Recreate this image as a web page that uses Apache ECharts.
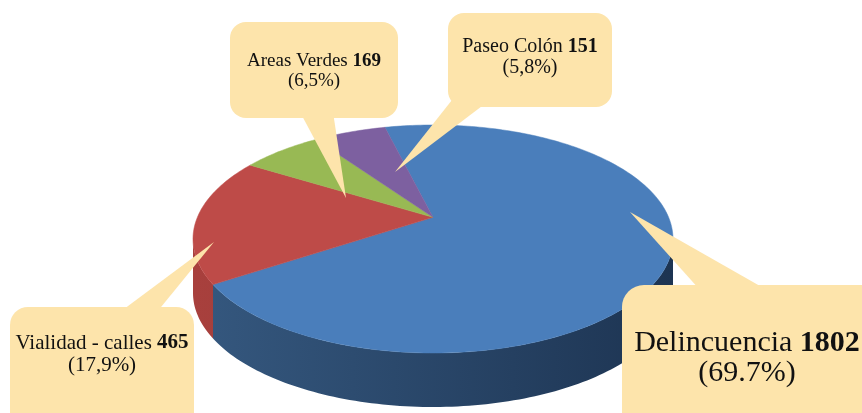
<!DOCTYPE html>
<html>
<head>
<meta charset="utf-8">
<script src="https://cdn.jsdelivr.net/npm/echarts@6.0.0/dist/echarts.min.js"></script>
<style>
  html, body { margin: 0; padding: 0; background: #fff; }
  #chart { width: 862px; height: 413px; }
</style>
</head>
<body>
<div id="chart"></div>
<script>
  // data
  var names = ['Delincuencia', 'Vialidad - calles', 'Areas Verdes', 'Paseo Colón'];
  var values = [1802, 465, 169, 151];
  var pctLabels = ['(69.7%)', '(17,9%)', '(6,5%)', '(5,8%)'];

  var topColors = ['#4a7ebb', '#be4b48', '#98b954', '#7d60a0'];
  var sideColors = [['#35587f', '#1d3452'], ['#a8403d', '#8a3431'], ['#7a9444', '#6a8139'], ['#65508a', '#56447a']];

  // fake 3d pie geometry
  var pie = { cx: 433, cy: 239, rx: 240, ry: 114, depth: 54, k: 0.19, start: -14 };
  var sx = pie.rx * Math.sqrt(1 - pie.k * pie.k);
  var sy = pie.ry * (1 - pie.k * pie.k);
  var apexY = pie.cy - pie.ry * pie.k;

  function proj(theta, dy) {
    var X = Math.sin(theta), Z = Math.cos(theta);
    var w = 1 + pie.k * Z;
    return [pie.cx + sx * X / w, apexY - sy * Z / w + (dy || 0)];
  }

  function arc(a0, a1, dy) {
    var pts = [];
    var n = Math.max(2, Math.ceil(Math.abs(a1 - a0) / 0.02));
    for (var i = 0; i <= n; i++) {
      pts.push(proj(a0 + (a1 - a0) * i / n, dy));
    }
    return pts;
  }

  var total = values.reduce(function (a, b) { return a + b; }, 0);
  var startAngles = [];
  var acc = 0;
  values.forEach(function (v) {
    startAngles.push(pie.start * Math.PI / 180 + acc / total * Math.PI * 2);
    acc += v;
  });

  var vis0 = Math.acos(-pie.k), vis1 = Math.PI * 2 - Math.acos(-pie.k);

  function renderItem(params, api) {
    var i = params.dataIndex;
    var a0 = startAngles[i];
    var a1 = a0 + api.value(0) / total * Math.PI * 2;
    var children = [];

    // front wall, only where it faces us
    [0, -Math.PI * 2].forEach(function (off) {
      var b0 = Math.max(a0, vis0 + off), b1 = Math.min(a1, vis1 + off);
      if (b1 > b0) {
        var pts = arc(b0, b1, 0).concat(arc(b1, b0, pie.depth));
        children.push({
          type: 'polygon',
          z2: 1,
          shape: { points: pts },
          style: {
            fill: new echarts.graphic.LinearGradient(pie.cx - pie.rx, 0, pie.cx + pie.rx, 0, [
              { offset: 0, color: sideColors[i][0] },
              { offset: 1, color: sideColors[i][1] }
            ], true)
          }
        });
      }
    });

    var top = [[pie.cx, apexY]].concat(arc(a0, a1, 0));
    children.push({
      type: 'polygon',
      z2: 10,
      shape: { points: top },
      style: { fill: topColors[i], stroke: topColors[i], lineWidth: 0.5 }
    });
    return { type: 'group', children: children };
  }

  var boxFill = '#fde4ab';
  var serif = '"Liberation Serif", "DejaVu Serif", serif';

  // callout layout: box, tail, text line centres, font size
  var callouts = [
    { i: 0, box: [622, 285, 260, 160, 22], tail: [[700, 290], [767, 290], [630, 212]], cx: 747, y1: 343, y2: 373, size: 30 },
    { i: 1, box: [10, 307, 184, 130, 18], tail: [[120, 312], [157, 312], [214, 242]], cx: 102, y1: 343, y2: 365, size: 21 },
    { i: 2, box: [230, 22, 168, 96, 16], tail: [[300, 112], [333, 112], [346, 198]], cx: 314, y1: 61, y2: 81, size: 19 },
    { i: 3, box: [448, 13, 164, 94, 16], tail: [[452, 100], [490, 100], [395, 172]], cx: 530, y1: 47, y2: 68, size: 20 }
  ];

  var graphics = [];
  callouts.forEach(function (c) {
    graphics.push(
      { type: 'rect', z: 100, shape: { x: c.box[0], y: c.box[1], width: c.box[2], height: c.box[3], r: c.box[4] }, style: { fill: boxFill } },
      { type: 'polygon', z: 100, shape: { points: c.tail }, style: { fill: boxFill } },
      {
        type: 'text', z: 101, x: c.cx, y: c.y1,
        style: {
          text: '{n|' + names[c.i] + ' }{b|' + values[c.i] + '}',
          align: 'center', verticalAlign: 'middle',
          rich: {
            n: { fontFamily: serif, fontSize: c.size, fill: '#111' },
            b: { fontFamily: serif, fontSize: c.size, fontWeight: 'bold', fill: '#111' }
          }
        }
      },
      {
        type: 'text', z: 101, x: c.cx, y: c.y2,
        style: {
          text: pctLabels[c.i], align: 'center', verticalAlign: 'middle',
          fontFamily: serif, fontSize: c.size, fill: '#111'
        }
      }
    );
  });

  var chart = echarts.init(document.getElementById('chart'));
  chart.setOption({
    animation: false,
    backgroundColor: '#fff',
    series: [{
      type: 'custom',
      coordinateSystem: 'none',
      renderItem: renderItem,
      data: values.map(function (v, i) { return { name: names[i], value: v }; })
    }],
    graphic: graphics
  });
</script>
</body>
</html>
